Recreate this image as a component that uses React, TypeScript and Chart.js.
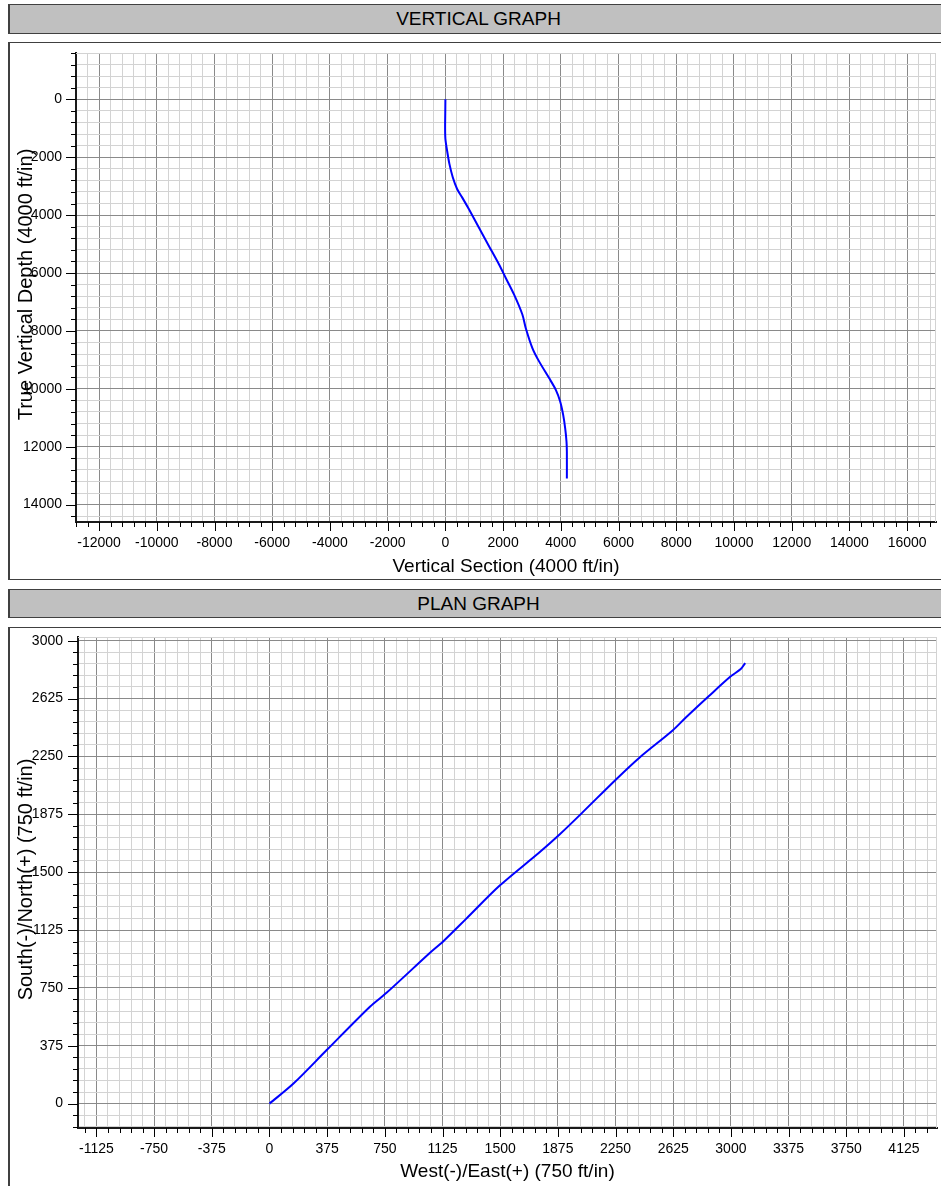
import React, { useEffect, useRef } from 'react';
import { Chart, registerables } from 'chart.js';

Chart.register(...registerables);

const FONT = '"Liberation Sans", Arial, Helvetica, sans-serif';

// ---- Vertical graph data (Vertical Section vs True Vertical Depth, ft) ----
const vsValues = [0, -5, -10, 0, 58, 139, 255, 406, 580, 812, 1159, 1507, 1855, 2087, 2377, 2667, 2783, 3014, 3246, 3594, 3826, 3977, 4081, 4151, 4197, 4209, 4209];
const tvdValues = [0, 500, 960, 1364, 1769, 2231, 2694, 3098, 3387, 3792, 4428, 5064, 5699, 6162, 6740, 7434, 7896, 8590, 9052, 9630, 10035, 10439, 10902, 11364, 11827, 12173, 13098];

// ---- Plan graph data (East/West vs North/South, ft) ----
const ewValues = [0, 156, 372, 653, 761, 1042, 1129, 1280, 1497, 1756, 1886, 2037, 2253, 2405, 2621, 2707, 2859, 2999, 3064, 3093];
const nsValues = [0, 130, 347, 628, 718, 976, 1051, 1199, 1413, 1629, 1744, 1889, 2101, 2242, 2418, 2502, 2643, 2769, 2816, 2855];

// ---- Axis ranges and tick steps ----
const vertXRange = [-12800, 17000];
const vertYRange = [-1600, 14600];
const vertSteps = [400, 2000]; // minor, major (labelled)
const planXRange = [-1245, 4340];
const planYRange = [-158, 3024];
const planSteps = [75, 375];

// ---- Texts ----
const vertTexts = ['VERTICAL GRAPH', 'Vertical Section (4000 ft/in)', 'True Vertical Depth (4000 ft/in)'];
const planTexts = ['PLAN GRAPH', 'West(-)/East(+) (750 ft/in)', 'South(-)/North(+) (750 ft/in)'];

const MINOR_GRID = '#d3d3d3';
const MAJOR_GRID = '#8a8a8a';

const isMajor = (v: number, step: number) => {
  const r = Math.abs(v % step);
  return r < 1e-6 || Math.abs(r - step) < 1e-6;
};

const decorPlugin = {
  id: 'decor',
  beforeDatasetsDraw(chart: any) {
    const { ctx, chartArea: a } = chart;
    ctx.save();
    ctx.strokeStyle = MINOR_GRID;
    ctx.lineWidth = 1;
    ctx.beginPath();
    const ty = Math.round(a.top) + 0.5;
    const rx = Math.round(a.right) - 0.5;
    ctx.moveTo(a.left, ty);
    ctx.lineTo(a.right, ty);
    ctx.moveTo(rx, a.top);
    ctx.lineTo(rx, a.bottom);
    ctx.stroke();
    ctx.restore();
  },
  afterDraw(chart: any, _args: any, opts: any) {
    const { ctx, chartArea: a } = chart;
    const xs = chart.scales.x;
    const ys = chart.scales.y;
    ctx.save();
    ctx.strokeStyle = '#000';
    ctx.lineWidth = 1;
    ctx.beginPath();
    xs.ticks.forEach((t: any) => {
      const px = Math.round(xs.getPixelForValue(t.value)) + 0.5;
      const len = isMajor(t.value, opts.major) ? 9 : 5;
      ctx.moveTo(px, a.bottom);
      ctx.lineTo(px, a.bottom + len);
    });
    ys.ticks.forEach((t: any) => {
      const py = Math.round(ys.getPixelForValue(t.value)) + 0.5;
      const len = isMajor(t.value, opts.major) ? 10 : 5;
      ctx.moveTo(a.left - len, py);
      ctx.lineTo(a.left, py);
    });
    ctx.stroke();

    ctx.fillStyle = '#000';
    ctx.textAlign = 'center';
    ctx.textBaseline = 'middle';
    ctx.font = '19px ' + FONT;
    ctx.fillText(opts.xTitle, (a.left + a.right) / 2, a.bottom + opts.xTitleOffset);
    ctx.font = '20px ' + FONT;
    ctx.translate(a.left - opts.yTitleOffset, (a.top + a.bottom) / 2 - 3);
    ctx.rotate(-Math.PI / 2);
    ctx.fillText(opts.yTitle, 0, 0);
    ctx.restore();
  },
};

function buildConfig(opts: {
  xs: number[]; ys: number[]; xRange: number[]; yRange: number[]; steps: number[];
  reverseY: boolean; texts: string[]; yWidth: number; xHeight: number;
  padTop: number; padRight: number; xPad: number; yPad: number; xTitleOffset: number; yTitleOffset: number;
}): any {
  const [minor, major] = opts.steps;
  const gridColor = (c: any) => (c.tick && isMajor(c.tick.value, major) ? MAJOR_GRID : MINOR_GRID);
  const label = (v: any) => (isMajor(Number(v), major) ? String(Math.round(Number(v))) : '');
  const tickFont = { family: FONT, size: 14 };
  return {
    type: 'scatter',
    data: {
      datasets: [
        {
          data: opts.xs.map((x, i) => ({ x, y: opts.ys[i] })),
          showLine: true,
          borderColor: '#0000ff',
          backgroundColor: '#0000ff',
          borderWidth: 2,
          pointRadius: 0,
          pointHoverRadius: 0,
          tension: 0.3,
        },
      ],
    },
    options: {
      animation: false,
      responsive: false,
      devicePixelRatio: 1,
      events: [],
      layout: { padding: { left: 0, top: opts.padTop, right: opts.padRight, bottom: 0 } },
      plugins: {
        legend: { display: false },
        tooltip: { enabled: false },
        title: { display: false },
        decor: {
          major,
          xTitle: opts.texts[1],
          yTitle: opts.texts[2],
          xTitleOffset: opts.xTitleOffset,
          yTitleOffset: opts.yTitleOffset,
        },
      },
      scales: {
        x: {
          type: 'linear',
          position: 'bottom',
          min: opts.xRange[0],
          max: opts.xRange[1],
          grid: { color: gridColor, lineWidth: 1, drawTicks: false },
          border: { display: true, color: '#1a1a1a', width: 2 },
          ticks: {
            stepSize: minor,
            autoSkip: false,
            maxRotation: 0,
            minRotation: 0,
            includeBounds: false,
            padding: opts.xPad,
            color: '#000',
            font: tickFont,
            callback: label,
          },
          afterFit: (s: any) => {
            s.height = opts.xHeight;
            s.paddingLeft = 0;
            s.paddingRight = 0;
          },
        },
        y: {
          type: 'linear',
          position: 'left',
          reverse: opts.reverseY,
          min: opts.yRange[0],
          max: opts.yRange[1],
          grid: { color: gridColor, lineWidth: 1, drawTicks: false },
          border: { display: true, color: '#1a1a1a', width: 2 },
          ticks: {
            stepSize: minor,
            autoSkip: false,
            includeBounds: false,
            padding: opts.yPad,
            color: '#000',
            font: tickFont,
            callback: label,
          },
          afterFit: (s: any) => {
            s.width = opts.yWidth;
            s.paddingTop = 0;
            s.paddingBottom = 0;
          },
        },
      },
    },
    plugins: [decorPlugin],
  };
}

const headerStyle = (top: number, height: number): React.CSSProperties => ({
  position: 'absolute',
  left: 8,
  top,
  width: 940,
  height,
  boxSizing: 'border-box',
  background: '#c0c0c0',
  border: '1px solid #404040',
  borderLeft: '2px solid #404040',
  color: '#000',
  fontFamily: FONT,
  fontSize: 19,
  lineHeight: `${height - 2}px`,
  textAlign: 'center',
});

const panelStyle = (top: number, height: number): React.CSSProperties => ({
  position: 'absolute',
  left: 8,
  top,
  width: 940,
  height,
  boxSizing: 'border-box',
  background: '#fff',
  border: '1px solid #404040',
  borderLeft: '2px solid #404040',
});

export default function App() {
  const vRef = useRef<HTMLCanvasElement>(null);
  const pRef = useRef<HTMLCanvasElement>(null);

  useEffect(() => {
    const c1 = new Chart(
      vRef.current as HTMLCanvasElement,
      buildConfig({
        xs: vsValues, ys: tvdValues, xRange: vertXRange, yRange: vertYRange, steps: vertSteps,
        reverseY: true, texts: vertTexts, yWidth: 66, xHeight: 56, padTop: 9, padRight: 5,
        xPad: 13, yPad: 14, xTitleOffset: 45, yTitleOffset: 50,
      })
    );
    const c2 = new Chart(
      pRef.current as HTMLCanvasElement,
      buildConfig({
        xs: ewValues, ys: nsValues, xRange: planXRange, yRange: planYRange, steps: planSteps,
        reverseY: false, texts: planTexts, yWidth: 68, xHeight: 58, padTop: 8, padRight: 4,
        xPad: 13, yPad: 15, xTitleOffset: 44, yTitleOffset: 52,
      })
    );
    return () => {
      c1.destroy();
      c2.destroy();
    };
  }, []);

  return (
    <div
      style={{
        position: 'fixed',
        left: 0,
        top: 0,
        width: 941,
        height: 1186,
        overflow: 'hidden',
        background: '#fff',
      }}
    >
      <div style={headerStyle(4, 30)}>{vertTexts[0]}</div>
      <div style={panelStyle(42, 538)} />
      <canvas ref={vRef} width={931} height={534} style={{ position: 'absolute', left: 10, top: 44, width: 931, height: 534 }} />
      <div style={headerStyle(589, 29)}>{planTexts[0]}</div>
      <div style={panelStyle(627, 600)} />
      <canvas ref={pRef} width={931} height={557} style={{ position: 'absolute', left: 10, top: 629, width: 931, height: 557 }} />
    </div>
  );
}
